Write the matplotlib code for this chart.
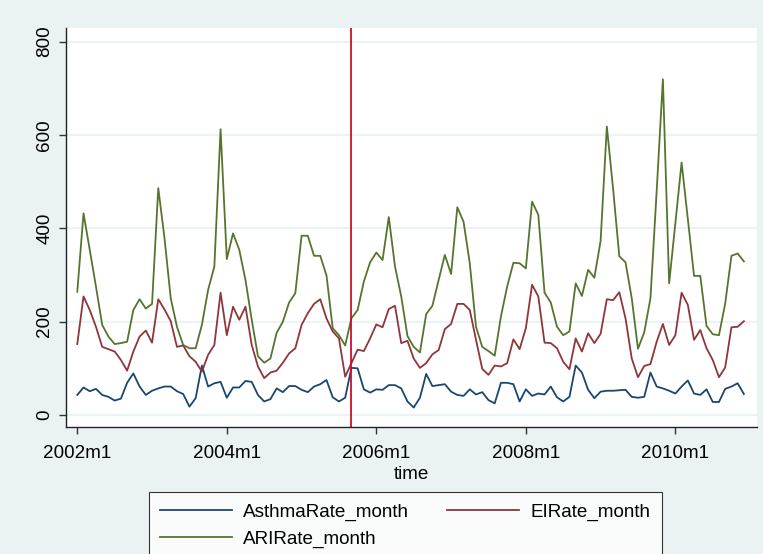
import matplotlib
matplotlib.use("Agg")
import matplotlib.pyplot as plt
import numpy as np

plt.rcParams['font.family'] = ['Liberation Sans', 'DejaVu Sans']

# monthly series, 2002m1 .. 2010m12
asthma = [43, 59, 51, 56, 43, 39, 31, 35, 69, 89, 61, 43,
          52, 57, 61, 61, 51, 45, 18, 36, 106, 61, 68, 71,
          37, 59, 59, 73, 71, 43, 29, 34, 57, 49, 62, 62,
          54, 49, 61, 66, 75, 38, 29, 37, 101, 100, 55, 48,
          55, 54, 64, 64, 57, 29, 16, 37, 88, 62, 64, 66,
          50, 43, 41, 55, 44, 49, 32, 25, 69, 69, 66, 29,
          55, 41, 46, 44, 61, 38, 29, 39, 106, 91, 54, 36,
          50, 52, 52, 53, 54, 39, 37, 39, 91, 61, 57, 52,
          46, 61, 74, 46, 43, 55, 28, 28, 56, 61, 68, 45]

ei = [152, 254, 225, 189, 146, 141, 136, 118, 95, 136, 168, 181,
      155, 248, 226, 201, 146, 149, 126, 114, 93, 129, 150, 262,
      171, 232, 204, 232, 150, 104, 79, 91, 95, 112, 132, 143,
      193, 218, 238, 248, 207, 179, 164, 82, 111, 140, 137, 164,
      194, 188, 227, 234, 154, 159, 121, 101, 111, 130, 139, 184,
      195, 238, 238, 225, 161, 99, 86, 106, 104, 111, 162, 141,
      186, 279, 254, 155, 154, 143, 114, 98, 164, 136, 175, 154,
      174, 248, 246, 263, 207, 121, 81, 105, 109, 157, 195, 150,
      171, 262, 236, 161, 182, 143, 118, 81, 102, 188, 189, 201]

ari = [264, 432, 354, 275, 193, 168, 152, 154, 157, 225, 248, 228,
       238, 486, 379, 250, 189, 150, 143, 143, 193, 268, 318, 612,
       334, 389, 354, 289, 204, 126, 112, 121, 176, 200, 241, 261,
       384, 384, 341, 341, 299, 186, 171, 149, 207, 225, 286, 327,
       348, 332, 424, 318, 254, 169, 146, 134, 216, 234, 289, 343,
       302, 445, 414, 325, 189, 146, 137, 127, 211, 275, 326, 325,
       314, 457, 429, 262, 241, 189, 171, 179, 282, 255, 311, 294,
       373, 618, 485, 340, 327, 250, 142, 177, 250, 480, 719, 282,
       411, 541, 420, 298, 298, 191, 173, 171, 239, 341, 346, 329]

months = [f"{y}m{m}" for y in range(2002, 2011) for m in range(1, 13)]
xtick_labels = ["2002m1", "2004m1", "2006m1", "2008m1", "2010m1"]
yticks = [0, 200, 400, 600, 800]
event_month = "2005m9"

BG = "#EAF2F3"

fig = plt.figure(figsize=(7.63, 5.54), dpi=100, facecolor=BG)
ax = fig.add_axes([0.0861, 0.2298, 0.9056, 0.7197])
ax.set_facecolor("white")

t = np.arange(len(months))
l_asthma, = ax.plot(t, asthma, color="#1A476F", lw=1.3, label="AsthmaRate_month")
l_ei, = ax.plot(t, ei, color="#90353B", lw=1.3, label="EIRate_month")
l_ari, = ax.plot(t, ari, color="#55752F", lw=1.3, label="ARIRate_month")
ax.axvline(months.index(event_month), color="#C8102E", lw=1.3)

ax.set_xlim(-1.86, 109.05)
ax.set_ylim(-25, 829)

ax.set_yticks(yticks)
ax.set_yticklabels([str(v) for v in yticks], rotation=90, va="center")
ax.set_xticks([months.index(s) for s in xtick_labels])
ax.set_xticklabels(xtick_labels)
ax.tick_params(labelsize=13.6, length=5, width=1, color="#333333", pad=4)
ax.tick_params(axis="x", pad=8)
ax.grid(axis="y", color=BG, lw=1.3)
ax.set_axisbelow(True)

for s in ["top", "right"]:
    ax.spines[s].set_visible(False)
for s in ["left", "bottom"]:
    ax.spines[s].set_color("#222222")
    ax.spines[s].set_linewidth(1.0)

ax.set_xlabel("time", fontsize=13.6, labelpad=3)

# row-wise legend order: Asthma, EI / ARI
leg = fig.legend([l_asthma, l_ari, l_ei],
                 ["AsthmaRate_month", "ARIRate_month", "EIRate_month"],
                 loc="upper left", bbox_to_anchor=(149 / 763, 1 - 492 / 554),
                 ncol=2, fontsize=13.6, frameon=True, fancybox=False,
                 handlelength=3.8, handletextpad=0.6, columnspacing=2.0,
                 borderpad=0.6, labelspacing=0.5, borderaxespad=0)
leg.get_frame().set_edgecolor("black")
leg.get_frame().set_linewidth(0.8)

fig.savefig("out.png", dpi=100, facecolor=BG)
